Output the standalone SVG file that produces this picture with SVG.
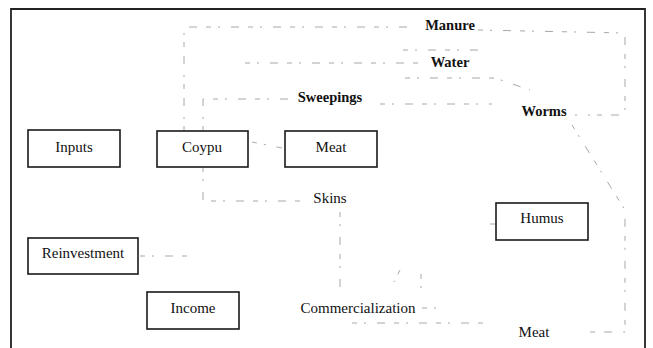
<svg xmlns="http://www.w3.org/2000/svg" width="653" height="348" viewBox="0 0 653 348">
<style>
.box{fill:#fff;stroke:#1a1a1a;stroke-width:1.6}
.t{font-family:"Liberation Serif","Times New Roman",serif;font-size:15px;fill:#111;text-anchor:middle}
.b{font-weight:bold;font-size:14.5px}
.c{fill:none;stroke:#a8a8a8;stroke-width:1;stroke-dasharray:5 7 2 11 8 9}
.frame{fill:none;stroke:#222;stroke-width:1.8}
</style>
<rect width="653" height="348" fill="#fff"/>
<path class="frame" d="M11,348 V9 H645 V348"/>
<g id="connectors">
<path class="c" d="M184,131 V27 H415"/>
<path class="c" d="M478,30 L625,33 V115 H575"/>
<path class="c" d="M203,131 V99 H290"/>
<path class="c" d="M380,104 H492"/>
<path class="c" d="M245,63 H425"/>
<path class="c" d="M403,50 H478"/>
<path class="c" d="M405,78 H495 L530,90"/>
<path class="c" d="M252,142 L282,148"/>
<path class="c" d="M203,167 V201 H300"/>
<path class="c" d="M140,256 H192"/>
<path class="c" d="M340,212 V295"/>
<path class="c" d="M400,270 L394,282"/>
<path class="c" d="M421,274 V288"/>
<path class="c" d="M422,308 H440"/>
<path class="c" d="M352,323 H490"/>
<path class="c" d="M572,125 L625,210 V332 H588"/>
<path class="c" d="M490,224 H497"/>
</g>
<g id="manure"><text class="t b" x="450" y="30">Manure</text></g>
<g id="water"><text class="t b" x="450" y="67">Water</text></g>
<g id="sweepings"><text class="t b" x="330" y="102">Sweepings</text></g>
<g id="worms"><text class="t b" x="544" y="116">Worms</text></g>
<g id="inputs"><rect class="box" x="28" y="130" width="92" height="37"/><text class="t" x="74" y="152">Inputs</text></g>
<g id="coypu"><rect class="box" x="157" y="131" width="91" height="36"/><text class="t" x="202" y="152">Coypu</text></g>
<g id="meat-box"><rect class="box" x="285" y="131" width="92" height="36"/><text class="t" x="331" y="152">Meat</text></g>
<g id="skins"><text class="t" x="330" y="203">Skins</text></g>
<g id="humus"><rect class="box" x="496" y="203" width="92" height="37"/><text class="t" x="542" y="223">Humus</text></g>
<g id="reinvestment"><rect class="box" x="28" y="238" width="110" height="36"/><text class="t" x="83" y="258">Reinvestment</text></g>
<g id="income"><rect class="box" x="147" y="292" width="92" height="37"/><text class="t" x="193" y="313">Income</text></g>
<g id="commercialization"><text class="t" x="358" y="313">Commercialization</text></g>
<g id="meat"><text class="t" x="534" y="337">Meat</text></g>
</svg>
